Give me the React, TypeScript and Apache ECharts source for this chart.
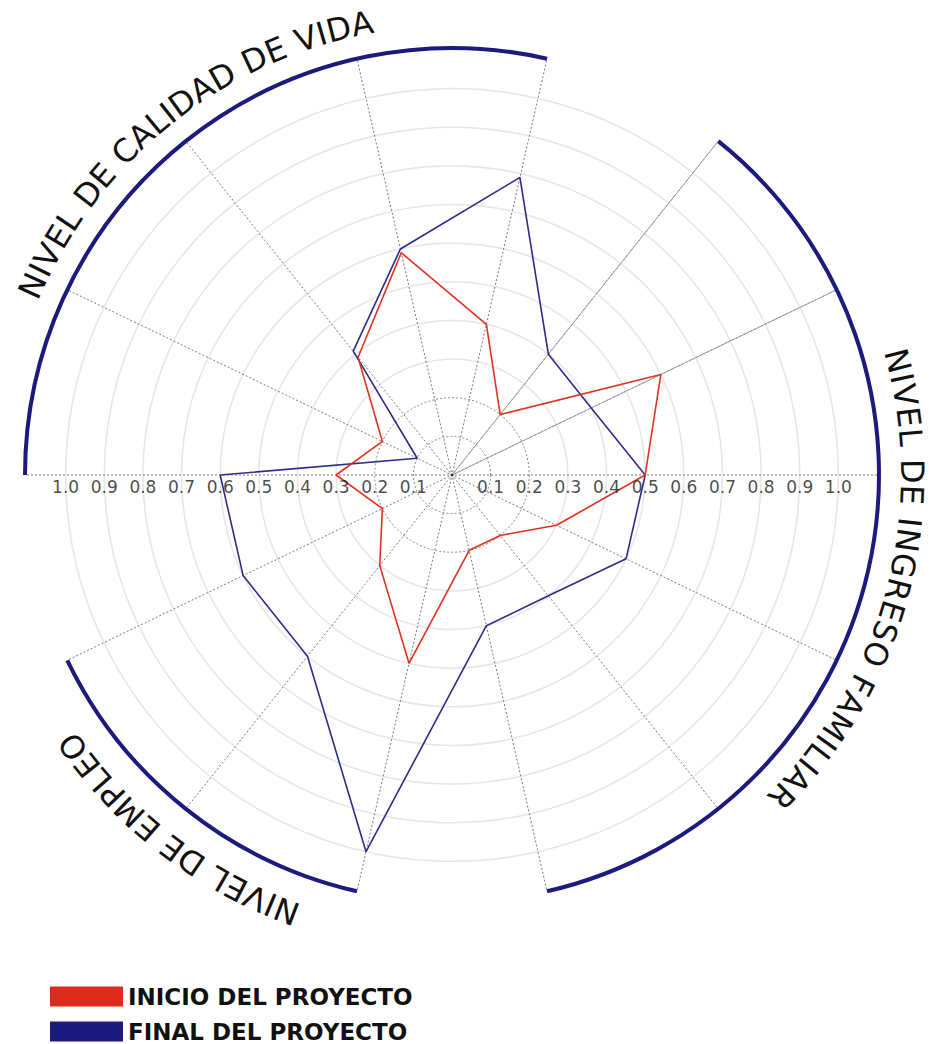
import React, { useEffect, useRef } from 'react';
import * as echarts from 'echarts';

// ---------- data ----------
const CATEGORIES = ['C1', 'C2', 'C3', 'C4', 'C5', 'C6', 'C7', 'C8', 'C9', 'C10', 'C11', 'C12', 'C13', 'C14'];
const INICIO = [0.40, 0.20, 0.60, 0.50, 0.30, 0.20, 0.20, 0.50, 0.30, 0.20, 0.30, 0.20, 0.39, 0.59];
const FINAL = [0.79, 0.40, 0.40, 0.50, 0.50, 0.40, 0.40, 1.00, 0.60, 0.60, 0.60, 0.10, 0.41, 0.60];
const TICKS = [0.1, 0.2, 0.3, 0.4, 0.5, 0.6, 0.7, 0.8, 0.9, 1.0];
const SERIES_NAMES = ['INICIO DEL PROYECTO', 'FINAL DEL PROYECTO'];
const GROUP_TITLES = ['NIVEL DE CALIDAD DE VIDA', 'NIVEL DE INGRESO FAMILIAR', 'NIVEL DE EMPLEO'];
// spoke index ranges covered by each group arc (end index may wrap past the count)
const GROUP_SPOKES = [[10, 14], [1, 6], [7, 9]];
const SOLID_SPOKES = [1, 2];
const RIGHT_SPOKE = 3;
const LEFT_SPOKE = 10;

// ---------- layout ----------
const W = 930;
const H = 1044;
const CX = 452;
const CY = 475;
const RMAX = 1.1;
const R = 425;
const ARC_R = 427;
const START = 360 / 14 / 2; // first spoke, degrees clockwise from top
const FONT = '"DejaVu Sans", Verdana, sans-serif';
const TITLE_LAYOUT = [
  { center: -38.55, span: 57.3, radius: 460 },
  { center: 104.9, span: 61.5, radius: 460 },
  { center: 217.6, span: 36.6, radius: 466 },
];

const RED = '#dc2a1c';
const RED_LINE = '#e0321f';
const BLUE = '#1c1a7c';
const BLUE_LINE = '#2f2b8a';
const T = 'rgba(0,0,0,0)';
const LIGHT = '#e6e6e6';
const DOT = '#858585';

let ctx: CanvasRenderingContext2D | null = null;
function measure(text: string, font: string) {
  if (!ctx) ctx = document.createElement('canvas').getContext('2d');
  ctx!.font = font;
  return ctx!.measureText(text).width;
}

function curvedText(text: string, centerDeg: number, spanDeg: number, radius: number, fontSize: number) {
  const font = `${fontSize}px "DejaVu Sans"`;
  const chars = Array.from(text);
  const widths = chars.map((ch) => measure(ch, font));
  const total = widths.reduce((a, b) => a + b, 0);
  const L = (spanDeg * Math.PI) / 180 * radius;
  const extra = chars.length > 1 ? (L - total) / (chars.length - 1) : 0;
  const start = (centerDeg * Math.PI) / 180 - L / 2 / radius;
  let s = 0;
  const els: any[] = [];
  chars.forEach((ch, i) => {
    const mid = s + widths[i] / 2;
    const phi = start + mid / radius;
    if (ch !== ' ') {
      els.push({
        type: 'text',
        x: CX + radius * Math.sin(phi),
        y: CY - radius * Math.cos(phi),
        rotation: -phi,
        silent: true,
        style: {
          text: ch,
          fontSize,
          fontFamily: FONT,
          fill: '#111',
          align: 'center',
          verticalAlign: 'middle',
        },
      });
    }
    s += widths[i] + extra;
  });
  return els;
}

function spokeDeg(i: number) {
  return START + (i * 360) / CATEGORIES.length;
}

function buildOption() {
  const graphics: any[] = [];
  GROUP_SPOKES.forEach(([a, b]) => {
    const s = ((spokeDeg(a) - 90) * Math.PI) / 180;
    const e = ((spokeDeg(b) - 90) * Math.PI) / 180;
    graphics.push({
      type: 'arc',
      silent: true,
      shape: { cx: CX, cy: CY, r: ARC_R, startAngle: s, endAngle: e, clockwise: true },
      style: { stroke: BLUE, lineWidth: 4, fill: 'none' },
      z: 10,
    });
  });
  GROUP_TITLES.forEach((t, i) => {
    const l = TITLE_LAYOUT[i];
    graphics.push(...curvedText(t, l.center, l.span, l.radius, 32));
  });

  const closed = (vals: number[]) => vals.map((v, i) => [v, i]).concat([[vals[0], CATEGORIES.length]]);

  const ringCount = Math.round(RMAX / 0.1) + 1;
  const lightColors: string[] = [];
  const dotColors: string[] = [];
  for (let i = 0; i < ringCount; i++) {
    lightColors.push(i >= 3 && i <= 10 ? LIGHT : T);
    dotColors.push(i === 1 || i === 2 ? DOT : T);
  }

  const commonAngle = {
    type: 'value',
    min: 0,
    max: CATEGORIES.length,
    interval: 1,
    startAngle: 90 - START,
    clockwise: true,
    axisLine: { show: false },
    axisTick: { show: false },
    axisLabel: { show: false },
  };
  const commonRadius = {
    type: 'value',
    min: 0,
    max: RMAX,
    interval: 0.1,
    axisLine: { show: false },
    axisTick: { show: false },
    axisLabel: { show: false },
  };

  return {
    animation: false,
    backgroundColor: '#ffffff',
    polar: [
      { center: [CX, CY], radius: R },
      { center: [CX, CY], radius: R },
    ],
    angleAxis: [
      {
        ...commonAngle,
        polarIndex: 0,
        splitLine: { show: true, lineStyle: { color: '#7a7a7a', type: [2, 2], width: 1 } },
        z: 2,
      },
      { ...commonAngle, polarIndex: 1, splitLine: { show: false } },
    ],
    radiusAxis: [
      {
        ...commonRadius,
        polarIndex: 0,
        splitLine: { show: true, lineStyle: { color: lightColors, width: 1.5 } },
      },
      {
        ...commonRadius,
        polarIndex: 1,
        splitLine: { show: true, lineStyle: { color: dotColors, width: 1, type: [2, 2] } },
      },
    ],
    legend: {
      data: SERIES_NAMES,
      orient: 'vertical',
      left: 50,
      top: 985,
      height: 80,
      padding: 0,
      itemWidth: 73,
      itemHeight: 20,
      itemGap: 12,
      icon: 'rect',
      selectedMode: false,
      textStyle: { fontSize: 23, fontWeight: 'bold', fontFamily: FONT, color: '#111', lineHeight: 23 },
    },
    graphic: { elements: graphics },
    series: [
      ...SOLID_SPOKES.map((k) => ({
        type: 'line',
        coordinateSystem: 'polar',
        polarIndex: 0,
        data: [[0, k], [RMAX, k]],
        symbol: 'none',
        silent: true,
        lineStyle: { color: '#a0a0a0', width: 1 },
        z: 2,
      })),
      {
        name: SERIES_NAMES[1],
        type: 'line',
        coordinateSystem: 'polar',
        polarIndex: 0,
        data: closed(FINAL),
        symbol: 'none',
        itemStyle: { color: BLUE },
        lineStyle: { color: BLUE_LINE, width: 1.6 },
        z: 3,
      },
      {
        name: SERIES_NAMES[0],
        type: 'line',
        coordinateSystem: 'polar',
        polarIndex: 0,
        data: closed(INICIO),
        symbol: 'none',
        itemStyle: { color: RED },
        lineStyle: { color: RED_LINE, width: 1.6 },
        z: 4,
      },
      {
        type: 'scatter',
        coordinateSystem: 'polar',
        polarIndex: 0,
        silent: true,
        data: [[0, 0]],
        symbolSize: 3,
        itemStyle: { color: '#111' },
        z: 5,
      },
      {
        type: 'scatter',
        coordinateSystem: 'polar',
        polarIndex: 0,
        silent: true,
        data: TICKS.map((t) => [t, RIGHT_SPOKE]).concat(TICKS.map((t) => [t, LEFT_SPOKE])),
        symbolSize: 1,
        itemStyle: { color: T },
        label: {
          show: true,
          position: 'bottom',
          distance: 3,
          formatter: (p: any) => Number(p.value[0]).toFixed(1),
          fontSize: 17,
          fontFamily: FONT,
          color: '#1a1a1a',
        },
        z: 5,
      },
    ],
  };
}

export default function App() {
  const ref = useRef<HTMLDivElement>(null);
  useEffect(() => {
    if (!ref.current) return;
    const chart = echarts.init(ref.current, undefined, { renderer: 'svg' });
    chart.setOption(buildOption() as any);
    return () => chart.dispose();
  }, []);
  return (
    <div
      ref={ref}
      style={{ position: 'absolute', left: 0, top: 0, width: W, height: H, background: '#fff' }}
    />
  );
}
